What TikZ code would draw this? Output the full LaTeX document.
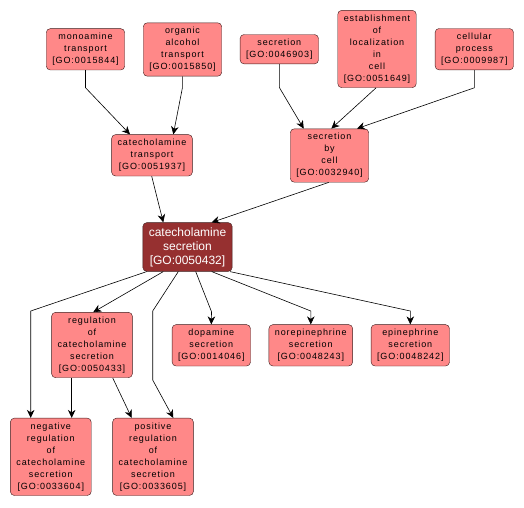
\documentclass[tikz,border=0pt]{standalone}
\usepackage{fontspec}
\setmainfont{Liberation Sans}
\newfontfamily\gofont[LetterSpace=10]{Liberation Sans}
\usetikzlibrary{arrows.meta}
\definecolor{termfill}{RGB}{255,136,136}
\definecolor{focusfill}{RGB}{150,48,48}
\definecolor{termline}{RGB}{60,28,28}
\tikzset{
  term/.style={draw=termline, fill=termfill, rounded corners=4pt, align=center,
    inner xsep=6pt, inner ysep=4.5pt, minimum width=77.5pt,
    font=\gofont\fontsize{9}{12}\selectfont},
  focus/.style={term, fill=focusfill, text=white, inner ysep=4.8pt,
    font=\fontsize{12}{14}\selectfont},
  isa/.style={draw=black, line width=0.6pt, -{Stealth[length=8pt,width=7.5pt,inset=2.5pt]}}
}
\begin{document}
\begin{tikzpicture}[x=1pt,y=-1pt]
\useasboundingbox (0,0) rectangle (524,507);
\node[term] (go15844) at (85.5,49.3){monoamine\\transport\\{[GO:0015844]}};
\node[term] (go15850) at (182.5,49.5){organic\\alcohol\\transport\\{[GO:0015850]}};
\node[term] (go46903) at (279.3,49.2){secretion\\{[GO:0046903]}};
\node[term] (go51649) at (377,49){establishment\\of\\localization\\in\\cell\\{[GO:0051649]}};
\node[term] (go9987) at (474.3,49.2){cellular\\process\\{[GO:0009987]}};
\node[term] (go51937) at (152,155.3){catecholamine\\transport\\{[GO:0051937]}};
\node[term] (go32940) at (329.5,155.5){secretion\\by\\cell\\{[GO:0032940]}};
\node[focus] (go50432) at (187.5,247){catecholamine\\secretion\\{[GO:0050432]}};
\node[term] (go50433) at (92,345){regulation\\of\\catecholamine\\secretion\\{[GO:0050433]}};
\node[term] (go14046) at (211.3,345.3){dopamine\\secretion\\{[GO:0014046]}};
\node[term] (go48243) at (310.8,345.3){norepinephrine\\secretion\\{[GO:0048243]}};
\node[term] (go48242) at (410.3,345.3){epinephrine\\secretion\\{[GO:0048242]}};
\node[term] (go33604) at (50.8,456.8){negative\\regulation\\of\\catecholamine\\secretion\\{[GO:0033604]}};
\node[term] (go33605) at (153,456.8){positive\\regulation\\of\\catecholamine\\secretion\\{[GO:0033605]}};
% edges into catecholamine transport
\draw[isa] (go15844.south) -- ++(0,17.5) -- ([xshift=-22pt]go51937.north);
\draw[isa] ([xshift=-0.2pt]go15850.south) -- ++(0,12) -- ([xshift=21.3pt]go51937.north);
% edges into secretion by cell
\draw[isa] (go46903.south) -- ++(0,23.3) -- ([xshift=-25.8pt]go32940.north);
\draw[isa] ([xshift=-1pt]go51649.south) -- ([xshift=1.8pt]go32940.north);
\draw[isa] (go9987.south) -- ++(0,17.7) -- ([xshift=27.5pt]go32940.north);
% edges into catecholamine secretion
\draw[isa] ([xshift=-0.3pt]go51937.south) -- ([xshift=-24.2pt]go50432.north);
\draw[isa] ([xshift=-0.8pt]go32940.south) -- ([xshift=24.2pt]go50432.north);
% edges out of catecholamine secretion
\draw[isa] ([xshift=-40.8pt]go50432.south) -- (30.7,311) -- ([xshift=-20.1pt]go33604.north);
\draw[isa] ([xshift=-24.2pt]go50432.south) -- ([xshift=1.3pt]go50433.north);
\draw[isa] ([xshift=-9.2pt]go50432.south) -- (152.7,311) -- (152.7,380) -- ([xshift=20.3pt]go33605.north);
\draw[isa] ([xshift=8.2pt]go50432.south) -- (211.5,311.7) -- (go14046.north);
\draw[isa] ([xshift=24.2pt]go50432.south) -- (310.8,311) -- (go48243.north);
\draw[isa] ([xshift=42.5pt]go50432.south) -- (410.3,311) -- (go48242.north);
% edges out of regulation
\draw[isa] ([xshift=-20.3pt]go50433.south) -- ([xshift=20.9pt]go33604.north);
\draw[isa] ([xshift=20.7pt]go50433.south) -- ([xshift=-21.3pt]go33605.north);
\end{tikzpicture}
\end{document}
